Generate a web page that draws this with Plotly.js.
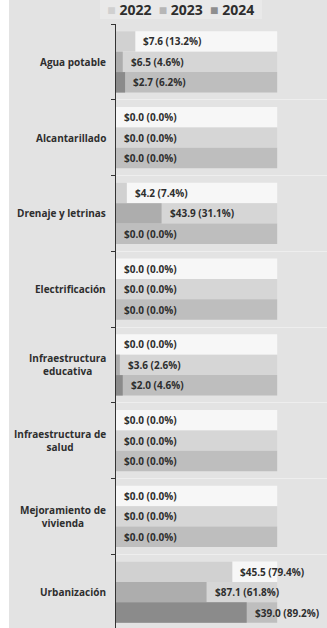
<!DOCTYPE html>
<html>
<head>
<meta charset="utf-8">
<script src="https://cdn.plot.ly/plotly-3.0.1.min.js"></script>
<style>
  html, body { margin: 0; padding: 0; background: #ffffff; overflow: hidden; width: 327px; height: 628px; }
  #chart { position: absolute; left: 9px; top: 0; width: 318px; height: 630px; }
</style>
</head>
<body>
<div id="chart"></div>
<script>
// ---- data ----
const categories = ["Agua potable", "Alcantarillado", "Drenaje y letrinas", "Electrificación",
  "Infraestructura educativa", "Infraestructura de salud", "Mejoramiento de vivienda", "Urbanización"];
const categoryLabels = ["Agua potable", "Alcantarillado", "Drenaje y letrinas", "Electrificación",
  "Infraestructura<br>educativa", "Infraestructura de<br>salud", "Mejoramiento de<br>vivienda", "Urbanización"];
const years = ["2022", "2023", "2024"];
const amount2022 = [7.6, 0.0, 4.2, 0.0, 0.0, 0.0, 0.0, 45.5];
const amount2023 = [6.5, 0.0, 43.9, 0.0, 3.6, 0.0, 0.0, 87.1];
const amount2024 = [2.7, 0.0, 0.0, 0.0, 2.0, 0.0, 0.0, 39.0];
const pct2022 = [13.2, 0.0, 7.4, 0.0, 0.0, 0.0, 0.0, 79.4];
const pct2023 = [4.6, 0.0, 31.1, 0.0, 2.6, 0.0, 0.0, 61.8];
const pct2024 = [6.2, 0.0, 0.0, 0.0, 4.6, 0.0, 0.0, 89.2];
const trackValue = 110; // full-length track behind each bar

// ---- styles ----
const amounts = [amount2022, amount2023, amount2024];
const pcts = [pct2022, pct2023, pct2024];
const barColors = ["#d1d1d1", "#adadad", "#8b8b8b"];
const trackColors = ["#f7f7f7", "#d6d6d6", "#bebebe"];
const legendColors = ["#d0d0d0", "#b6b6b6", "#8e8e8e"];
const barW = 0.27;
const offsets = [-0.405, -0.135, 0.135];
const font = "'Open Sans', 'Noto Sans', sans-serif";
const txtColor = "#2e2e2e";

const traces = [];
years.forEach((yr, k) => {
  traces.push({
    type: "bar", orientation: "h", name: yr + " track", showlegend: false,
    y: categories, x: categories.map(() => trackValue),
    offset: offsets[k], width: barW,
    marker: { color: trackColors[k], line: { width: 0 } },
    hoverinfo: "skip"
  });
});
years.forEach((yr, k) => {
  traces.push({
    type: "bar", orientation: "h", name: yr, showlegend: false,
    y: categories, x: pcts[k],
    offset: offsets[k], width: barW,
    marker: { color: barColors[k], line: { width: 0 } }
  });
});

const annotations = [];
// value labels
years.forEach((yr, k) => {
  categories.forEach((c, i) => {
    annotations.push({
      xref: "x", yref: "y", x: pcts[k][i], y: i + offsets[k] + barW / 2,
      xanchor: "left", yanchor: "middle", xshift: 6, showarrow: false,
      text: "$" + amounts[k][i].toFixed(1) + " (" + pcts[k][i].toFixed(1) + "%)",
      font: { family: font, size: 10, color: txtColor, weight: "bold" }
    });
  });
});
// category labels
categories.forEach((c, i) => {
  annotations.push({
    xref: "paper", yref: "y", x: 0, y: c, xanchor: "right", yanchor: "middle",
    xshift: -8, showarrow: false, align: "center", text: categoryLabels[i],
    font: { family: font, size: 10, color: txtColor, weight: "bold" }
  });
});
// legend (drawn as text with coloured squares)
const nb = "\u00A0";
const legendText = years.map((yr, k) =>
  '<span style="color:' + legendColors[k] + '">■</span>' + nb + yr).join(nb + nb);
annotations.push({
  xref: "paper", yref: "paper", x: -16 / 211, y: 1 + 24 / 606, xanchor: "left", yanchor: "top",
  showarrow: false, text: nb + nb + legendText + nb + nb, bgcolor: "#e9e9e9", borderpad: 0, borderwidth: 0,
  font: { family: font, size: 14, color: txtColor, weight: "bold" }
});

const layout = {
  width: 318, height: 630,
  margin: { l: 107, r: 0, t: 24, b: 0, pad: 0 },
  paper_bgcolor: "#e3e3e3", plot_bgcolor: "#e3e3e3",
  barmode: "overlay",
  showlegend: false,
  xaxis: { range: [0, 144], showgrid: false, zeroline: false, showticklabels: false, showline: false, fixedrange: true },
  yaxis: {
    type: "category", autorange: "reversed", showticklabels: false,
    showline: true, linecolor: "#333333", linewidth: 1,
    ticks: "outside", ticklen: 4, tickcolor: "#333333", tickson: "boundaries",
    showgrid: true, gridcolor: "#eeeeee", gridwidth: 1, zeroline: false
  },
  annotations: annotations,
  font: { family: font, color: txtColor }
};

Plotly.newPlot("chart", traces, layout, { displayModeBar: false, staticPlot: true });
</script>
</body>
</html>
